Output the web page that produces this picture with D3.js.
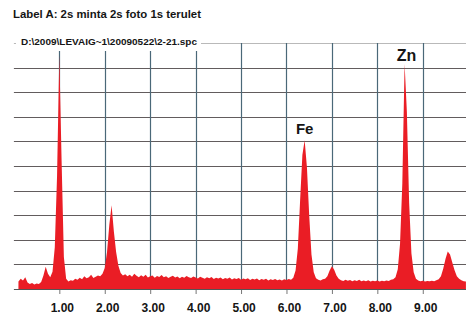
<!DOCTYPE html>
<html>
<head>
<meta charset="utf-8">
<script src="https://cdnjs.cloudflare.com/ajax/libs/d3/7.8.5/d3.min.js"></script>
<style>
  html, body { margin: 0; padding: 0; background: #fff; }
  svg { display: block; }
  text { font-family: "Liberation Sans", Arial, sans-serif; font-weight: bold; fill: #151515; }
</style>
</head>
<body>
<script>
let width = 466;
let height = 317;

let title = 'Label A: 2s minta 2s foto 1s terulet';
let fileName = 'D:\\2009\\LEVAIG~1\\20090522\\2-21.spc';

// spectrum, one reading every 0.05 keV starting at 0.10 keV
let energyStart = 0.10;
let energyStep = 0.05;
let counts = [
  30, 42, 35, 48, 26, 20, 24, 18, 22, 20,
  28, 55, 90, 62, 48, 70, 170, 460, 950, 520,
  130, 42, 30, 36, 34, 42, 38, 46, 40, 52,
  44, 48, 58, 45, 50, 55, 52, 62, 85, 150,
  260, 340, 235, 150, 95, 65, 55, 60, 52, 58,
  50, 62, 54, 48, 56, 50, 58, 47, 52, 55,
  46, 53, 49, 57, 48, 52, 45, 50, 54, 47,
  51, 44, 50, 46, 53, 48, 45, 51, 47, 43,
  50, 46, 42, 48, 44, 49, 41, 46, 43, 47,
  40, 45, 42, 47, 39, 44, 41, 45, 38, 43,
  40, 44, 37, 42, 39, 43, 36, 41, 38, 42,
  35, 40, 37, 41, 36, 39, 35, 40, 37, 41,
  38, 46, 75, 165, 360, 545, 605, 495, 300, 140,
  68, 44, 38, 35, 40, 42, 52, 75, 92, 78,
  55, 42, 36, 33, 38, 34, 37, 32, 36, 33,
  38, 31, 35, 32, 36, 30, 34, 31, 35, 30,
  34, 31, 35, 33, 38, 40, 48, 80, 185, 430,
  915, 720, 350, 145, 68, 42, 35, 32, 34, 30,
  33, 31, 34, 32, 36, 40, 52, 82, 122, 152,
  140, 108, 76, 52, 42, 36, 32, 30
];

let xTicks = [1, 2, 3, 4, 5, 6, 7, 8, 9];
let yGrid = [100, 200, 300, 400, 500, 600, 700, 800, 900];
let yMax = 1000;

let peakNames = ['Fe', 'Zn'];
let peakEnergies = [6.40, 8.64];

let svg = d3.select('body').append('svg')
  .attr('width', width)
  .attr('height', height);

svg.append('rect')
  .attr('width', width)
  .attr('height', height)
  .attr('fill', '#fff');

let x = d3.scaleLinear().domain([0, 10]).range([13.9, 468.2]);
let y = d3.scaleLinear().domain([0, yMax]).range([289, 43]);

// top frame line
svg.append('line')
  .attr('x1', x(0)).attr('x2', width)
  .attr('y1', y(yMax) + 0.5).attr('y2', y(yMax) + 0.5)
  .attr('stroke', '#b9b9b9');

// grid
svg.append('g')
  .selectAll('line')
  .data(yGrid)
  .join('line')
  .attr('x1', x(0)).attr('x2', width)
  .attr('y1', (d) => Math.round(y(d)) + 0.5)
  .attr('y2', (d) => Math.round(y(d)) + 0.5)
  .attr('stroke', '#625c5d')
  .attr('stroke-width', 1.2);

svg.append('g')
  .selectAll('line')
  .data(xTicks)
  .join('line')
  .attr('x1', (d) => Math.round(x(d)) + 0.5)
  .attr('x2', (d) => Math.round(x(d)) + 0.5)
  .attr('y1', y(yMax))
  .attr('y2', y(0))
  .attr('stroke', '#4a6878')
  .attr('stroke-width', 1.2);

// spectrum
let area = d3.area()
  .x((d, i) => x(energyStart + i * energyStep))
  .y0(y(0))
  .y1((d) => y(d));

svg.append('path')
  .datum(counts)
  .attr('d', area)
  .attr('fill', '#ea1d25');

// x axis
let axis = svg.append('g')
  .attr('transform', `translate(0,${y(0)})`)
  .call(d3.axisBottom(x)
    .tickValues(xTicks)
    .tickFormat(d3.format('.2f'))
    .tickSize(5)
    .tickPadding(9));

axis.select('.domain').remove();
axis.selectAll('.tick line').attr('stroke', '#777');
axis.selectAll('.tick text')
  .attr('dx', 2.5)
  .style('font-family', '"Liberation Sans", Arial, sans-serif')
  .style('font-weight', 'bold')
  .style('font-size', '12px')
  .attr('fill', '#151515');

svg.append('line')
  .attr('x1', x(0)).attr('x2', width)
  .attr('y1', y(0) + 0.5).attr('y2', y(0) + 0.5)
  .attr('stroke', '#555');

// peak labels
peakNames.forEach((name, k) => {
  let i = Math.round((peakEnergies[k] - energyStart) / energyStep);
  let top = d3.max(counts.slice(i - 2, i + 3));
  svg.append('text')
    .attr('x', x(peakEnergies[k]))
    .attr('y', y(top) - (name === 'Zn' ? 2.5 : 6))
    .attr('text-anchor', 'middle')
    .style('font-size', name === 'Zn' ? '16px' : '15px')
    .text(name);
});

// header
svg.append('text')
  .attr('x', 13)
  .attr('y', 17.5)
  .attr('textLength', 188)
  .attr('lengthAdjust', 'spacingAndGlyphs')
  .style('font-size', '10.5px')
  .text(title);

svg.append('rect')
  .attr('x', 16).attr('y', 31)
  .attr('width', 185).attr('height', 20)
  .attr('fill', '#fff');

svg.append('text')
  .attr('x', 21)
  .attr('y', 45)
  .attr('textLength', 176)
  .attr('lengthAdjust', 'spacingAndGlyphs')
  .style('font-size', '9.8px')
  .text(fileName);
</script>
</body>
</html>
